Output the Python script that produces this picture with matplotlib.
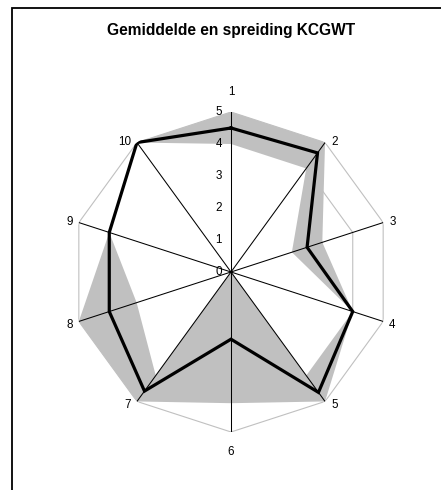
import numpy as np
import matplotlib
matplotlib.use("Agg")
import matplotlib.pyplot as plt
from matplotlib.patches import Rectangle

plt.rcParams["font.family"] = ["Liberation Sans", "DejaVu Sans"]

categories = ["1", "2", "3", "4", "5", "6", "7", "8", "9", "10"]
mean_vals = [4.5, 4.6, 2.5, 4.0, 4.65, 2.1, 4.6, 4.0, 4.0, 5.0]
upper_vals = [5.0, 5.0, 3.0, 4.0, 5.0, 4.1, 5.0, 5.0, 4.0, 5.0]
lower_vals = [4.0, 4.0, 2.0, 4.0, 4.0, 0.0, 4.0, 3.1, 4.0, 5.0]
levels = [0, 1, 2, 3, 4, 5]
title = "Gemiddelde en spreiding KCGWT"


def closed(values):
    return list(values) + [values[0]]


def main():
    fig = plt.figure(figsize=(4.41, 4.9), dpi=100)
    ax = fig.add_axes([71 / 441, 58 / 490, 320 / 441, 320 / 490], projection="polar")
    ax.set_theta_zero_location("N")
    ax.set_theta_direction(-1)
    ax.set_ylim(0, 5)
    ax.grid(False)
    ax.set_xticks([])
    ax.set_yticks([])
    ax.spines["polar"].set_visible(False)
    ax.patch.set_visible(False)

    n = len(categories)
    theta = np.linspace(0, 2 * np.pi, n, endpoint=False)
    th = closed(theta)

    # web gridlines (get covered by the filled band like in excel)
    for lv in levels[1:]:
        ax.plot(th, [lv] * (n + 1), color="#c0c0c0", lw=0.8, zorder=1)

    ax.fill(th, closed(upper_vals), color="#c0c0c0", lw=0, zorder=2)
    ax.fill(th, closed(lower_vals), color="white", lw=0, zorder=3)

    for t in theta:
        ax.plot([t, t], [0, levels[-1]], color="black", lw=0.75, zorder=4)

    ax.plot(th, closed(mean_vals), color="black", lw=2.3, zorder=5,
            solid_joinstyle="miter")

    for lv in levels:
        ax.annotate(str(lv), xy=(0, lv), xytext=(-9, 0), textcoords="offset pixels",
                    ha="right", va="center", fontsize=8.4, zorder=6)

    for t, lab in zip(theta, categories):
        s, c = np.sin(t), np.cos(t)
        if abs(s) < 0.1:
            dx, dy, ha = 0, 20 * np.sign(c), "center"
        else:
            dx = 6 * np.sign(s)
            dy = 1 if c > 0 else -4
            ha = "left" if s > 0 else "right"
        ax.annotate(lab, xy=(t, levels[-1]), xytext=(dx, dy), textcoords="offset pixels",
                    ha=ha, va="center", fontsize=8.4, annotation_clip=False)

    fig.text(231 / 441, 1 - 30 / 490, title, ha="center", va="center",
             fontsize=11.2, fontweight="bold")

    fig.patches.append(Rectangle((12 / 441, -0.1), 1.2, 1.1 - 8 / 490,
                                 transform=fig.transFigure, fill=False,
                                 edgecolor="black", lw=1.3))

    fig.savefig("out.png", dpi=100)


if __name__ == "__main__":
    main()
